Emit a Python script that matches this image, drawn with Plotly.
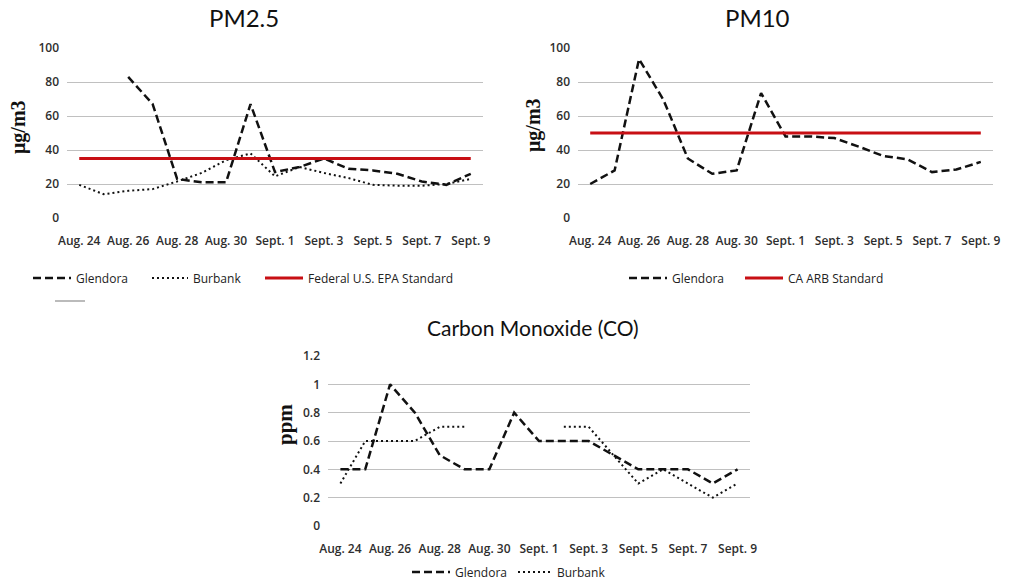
import plotly.graph_objects as go

# ---------------- data ----------------
dates = ["Aug. 24", "Aug. 25", "Aug. 26", "Aug. 27", "Aug. 28", "Aug. 29", "Aug. 30", "Aug. 31",
         "Sept. 1", "Sept. 2", "Sept. 3", "Sept. 4", "Sept. 5", "Sept. 6", "Sept. 7", "Sept. 8", "Sept. 9"]
tick_dates = ["Aug. 24", "Aug. 26", "Aug. 28", "Aug. 30", "Sept. 1", "Sept. 3", "Sept. 5", "Sept. 7", "Sept. 9"]

pm25_glendora = [None, None, 83, 67, 23, 21, 21, 67, 27, 30, 35, 29, 28, 26, 21.5, 19.5, 26]
pm25_burbank = [19.5, 14, 16, 17, 21.5, 26.5, 34, 38, 24.5, 30, 26.5, 23.5, 19.5, 19, 19, 20, 23]
pm25_standard = [35, 35, 35, 35, 35, 35, 35, 35, 35, 35, 35, 35, 35, 35, 35, 35, 35]

pm10_glendora = [20, 28, 93.5, 69.5, 35, 26, 28, 73.5, 48, 48, 47, 42, 36.5, 34.5, 27, 28.5, 33]
pm10_standard = [50, 50, 50, 50, 50, 50, 50, 50, 50, 50, 50, 50, 50, 50, 50, 50, 50]

co_glendora = [0.4, 0.4, 1.0, 0.8, 0.5, 0.4, 0.4, 0.8, 0.6, 0.6, 0.6, 0.5, 0.4, 0.4, 0.4, 0.3, 0.4]
co_burbank = [0.3, 0.6, 0.6, 0.6, 0.7, 0.7, None, None, None, 0.7, 0.7, 0.5, 0.3, 0.4, 0.3, 0.2, 0.3]

# ---------------- style ----------------
W, H = 1012, 581
BLACK = "#111111"
RED = "#c80f14"
GRID = "#c0c0c0"
TICKFONT = dict(family="Open Sans", size=12, color="#2e2e2e", weight=600)
LEGFONT = dict(family="Open Sans", size=12, color="#222222")
DASH = "8px,4px"
DOT = "2px,3px"


def px_x(v):
    return v / W


def px_y(v):
    return 1 - v / H


fig = go.Figure()


def add(y, name, line, xa, ya, leg):
    fig.add_trace(go.Scatter(x=dates, y=y, mode="lines", name=name, line=line,
                             xaxis=xa, yaxis=ya, legend=leg, hoverinfo="x+y+name"))


# PM2.5
add(pm25_glendora, "Glendora", dict(color=BLACK, width=2.5, dash=DASH), "x", "y", "legend")
add(pm25_burbank, "Burbank", dict(color=BLACK, width=2, dash=DOT), "x", "y", "legend2")
add(pm25_standard, "Federal U.S. EPA Standard", dict(color=RED, width=3), "x", "y", "legend3")
fig.add_trace(go.Scatter(x=[None], y=[None], mode="lines", name=" ",
                         line=dict(color="#bbbbbb", width=2), xaxis="x", yaxis="y", legend="legend4"))
# PM10
add(pm10_glendora, "Glendora", dict(color=BLACK, width=2.5, dash=DASH), "x2", "y2", "legend5")
add(pm10_standard, "CA ARB Standard", dict(color=RED, width=3), "x2", "y2", "legend6")
# CO
add(co_glendora, "Glendora", dict(color=BLACK, width=2.5, dash=DASH), "x3", "y3", "legend7")
add(co_burbank, "Burbank", dict(color=BLACK, width=2, dash=DOT), "x3", "y3", "legend8")


def xax(domain, anchor):
    return dict(domain=domain, anchor=anchor, type="category", categoryorder="array", categoryarray=dates,
                range=[-0.5, 16.5], tickmode="array", tickvals=tick_dates, ticktext=tick_dates,
                showgrid=False, showline=False, zeroline=False, ticks="", tickfont=TICKFONT,
                tickangle=0, ticklabelstandoff=14, fixedrange=True)


def yax(domain, anchor, rng, dtick):
    return dict(domain=domain, anchor=anchor, range=rng, dtick=dtick, showgrid=True, gridcolor=GRID,
                gridwidth=1, zeroline=False, showline=False, ticks="", tickfont=TICKFONT,
                ticklabelstandoff=7, fixedrange=True)


def leg(x_line, y_row, iw=38):
    # x_line: pixel where the legend line sample should start; y_row: pixel row centre
    return dict(orientation="h", x=px_x(x_line - 5), y=px_y(y_row), xanchor="left", yanchor="middle",
                font=LEGFONT, bgcolor="rgba(0,0,0,0)", itemwidth=iw, borderwidth=0)


def note(text, x, y, font, angle=0):
    return dict(text=text, x=px_x(x), y=px_y(y), xref="paper", yref="paper", showarrow=False,
                xanchor="center", yanchor="middle", textangle=angle, font=font)


TITLE_FONT = dict(family="Lato", size=24, color="#111111")
SERIF = dict(family="Liberation Serif", size=20, color="#111111", weight="bold")

fig.update_layout(
    width=W, height=H, autosize=False,
    margin=dict(l=0, r=0, t=0, b=0, autoexpand=False),
    paper_bgcolor="white", plot_bgcolor="white",
    showlegend=True,
    xaxis=xax([px_x(67), px_x(483)], "y"),
    yaxis=yax([px_y(218), px_y(48)], "x", [0, 100], 20),
    xaxis2=xax([px_x(578), px_x(993)], "y2"),
    yaxis2=yax([px_y(218), px_y(48)], "x2", [0, 100], 20),
    xaxis3=xax([px_x(328), px_x(750)], "y3"),
    yaxis3=yax([px_y(526), px_y(356)], "x3", [0, 1.2], 0.2),
    legend=leg(33, 278),
    legend2=leg(152, 278, 36),
    legend3=leg(265, 278),
    legend4=leg(55, 301, 30),
    legend5=leg(629, 278),
    legend6=leg(745, 278),
    legend7=leg(412, 572),
    legend8=leg(518, 572, 34),
    annotations=[
        note("PM2.5", 244, 18, TITLE_FONT),
        note("PM10", 757, 18, TITLE_FONT),
        note("Carbon Monoxide (CO)", 533, 327, dict(family="Lato", size=21, color="#111111")),
        note("μg/m3", 18, 127, SERIF, -90),
        note("μg/m3", 534, 125, SERIF, -90),
        note("ppm", 285, 425, dict(SERIF, size=21), -90),
    ],
)

fig.write_html("out.html", config={"displayModeBar": False},
               post_script="document.body.style.margin='0';document.body.style.overflow='hidden';")
